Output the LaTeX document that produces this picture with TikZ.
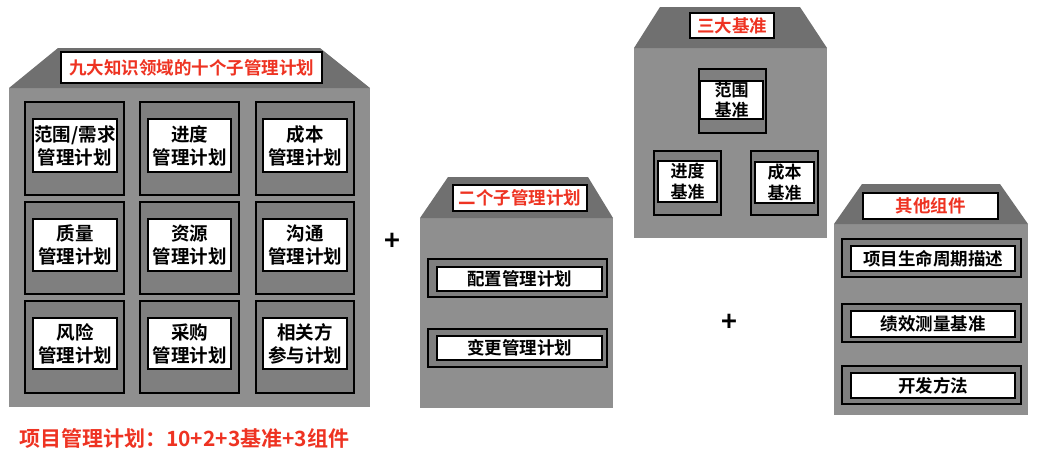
\documentclass[tikz,border=0pt]{standalone}
\usepackage{fontspec}
\setmainfont{Noto Sans CJK SC}[BoldFont={* Bold}]
\definecolor{bodygray}{HTML}{8F8F8F}
\definecolor{roofgray}{HTML}{707070}
\definecolor{innergray}{HTML}{7F7F7F}
\definecolor{titlered}{HTML}{EE3322}
\begin{document}
\begin{tikzpicture}[x=1pt,y=-1pt,
  bodyshape/.style={fill=bodygray,draw=none},
  roofshape/.style={fill=roofgray,draw=none},
  darkbox/.style={draw=black,line width=1.2pt,fill=innergray,inner sep=0pt},
  wbox/.style={draw=black,line width=1.2pt,fill=white,inner sep=0pt,align=center,
    font=\fontsize{17.5}{22}\selectfont\bfseries},
  wboxl/.style={wbox,font=\fontsize{18.5}{23}\selectfont\bfseries},
  wboxs/.style={wbox,font=\fontsize{17}{20.5}\selectfont\bfseries},
  titlebox/.style={wbox,text=titlered},
  plus/.style={font=\fontsize{27}{27}\selectfont\bfseries,inner sep=0pt}
]
\useasboundingbox (0,0) rectangle (1047,459);

% ---------- building 1 ----------
\fill[bodyshape] (9,88) rectangle (370,407);
\fill[roofshape] (9,88) -- (58,48) -- (320,48) -- (370,88) -- cycle;
\node[titlebox,minimum width=261,minimum height=31] (t1) at (191.5,67.5) {九大知识领域的十个子管理计划};

\node[darkbox,minimum width=99,minimum height=93] (d11) at (74.5,148.5) {};
\node[darkbox,minimum width=99,minimum height=93] (d12) at (189.5,148.5) {};
\node[darkbox,minimum width=98,minimum height=93] (d13) at (305,148.5) {};
\node[darkbox,minimum width=99,minimum height=92] (d21) at (74.5,248) {};
\node[darkbox,minimum width=99,minimum height=92] (d22) at (189.5,248) {};
\node[darkbox,minimum width=98,minimum height=92] (d23) at (305,248) {};
\node[darkbox,minimum width=99,minimum height=92] (d31) at (74.5,347) {};
\node[darkbox,minimum width=99,minimum height=92] (d32) at (189.5,347) {};
\node[darkbox,minimum width=98,minimum height=92] (d33) at (305,347) {};

\node[wboxl,minimum width=84,minimum height=53] (w11) at (75,145.5) {范围/需求\\管理计划};
\node[wboxl,minimum width=83,minimum height=53] (w12) at (189.5,145.5) {进度\\管理计划};
\node[wboxl,minimum width=84,minimum height=53] (w13) at (305,145.5) {成本\\管理计划};
\node[wboxl,minimum width=84,minimum height=52] (w21) at (75,245) {质量\\管理计划};
\node[wboxl,minimum width=83,minimum height=52] (w22) at (189.5,245) {资源\\管理计划};
\node[wboxl,minimum width=84,minimum height=52] (w23) at (305,245) {沟通\\管理计划};
\node[wboxl,minimum width=84,minimum height=51] (w31) at (75,343.5) {风险\\管理计划};
\node[wboxl,minimum width=83,minimum height=51] (w32) at (189.5,343.5) {采购\\管理计划};
\node[wboxl,minimum width=84,minimum height=51] (w33) at (305,343.5) {相关方\\参与计划};

\node[anchor=west,inner sep=0pt,text=titlered,font=\fontsize{21}{21}\selectfont\bfseries] (summary) at (19,438) {项目管理计划：10+2+3基准+3组件};

\node[plus] (p1) at (392,242) {+};

% ---------- building 2 ----------
\fill[bodyshape] (420,218) rectangle (613,408);
\fill[roofshape] (420,218) -- (448,177) -- (588,177) -- (613,218) -- cycle;
\node[titlebox,minimum width=134,minimum height=26] (t2) at (520,198) {二个子管理计划};
\node[darkbox,minimum width=179,minimum height=38] (e1) at (517.5,278) {};
\node[darkbox,minimum width=179,minimum height=38] (e2) at (517.5,348) {};
\node[wbox,minimum width=165,minimum height=24] (v1) at (519.5,279) {配置管理计划};
\node[wbox,minimum width=165,minimum height=24] (v2) at (519.5,348) {变更管理计划};

% ---------- building 3 ----------
\fill[bodyshape] (634,48) rectangle (827,238);
\fill[roofshape] (634,48) -- (660,7) -- (800,7) -- (827,48) -- cycle;
\node[titlebox,minimum width=84,minimum height=25] (t3) at (732,25.5) {三大基准};
\node[darkbox,minimum width=67,minimum height=64] (b1) at (732.5,101) {};
\node[darkbox,minimum width=67,minimum height=64] (b2) at (687.5,183) {};
\node[darkbox,minimum width=67,minimum height=64] (b3) at (784.5,183) {};
\node[wboxs,minimum width=63,minimum height=38] (c1) at (731.5,100) {范围\\基准};
\node[wboxs,minimum width=59,minimum height=41] (c2) at (687.5,181.5) {进度\\基准};
\node[wboxs,minimum width=59,minimum height=41] (c3) at (784.5,182.5) {成本\\基准};

\node[plus] (p2) at (729,323) {+};

% ---------- building 4 ----------
\fill[bodyshape] (834,224) rectangle (1028,415);
\fill[roofshape] (834,224) -- (862,184) -- (1000,184) -- (1028,224) -- cycle;
\node[titlebox,minimum width=135,minimum height=26] (t4) at (930.5,206) {其他组件};
\node[darkbox,minimum width=179,minimum height=38] (f1) at (931.5,258) {};
\node[darkbox,minimum width=179,minimum height=38] (f2) at (931.5,323) {};
\node[darkbox,minimum width=179,minimum height=38] (f3) at (931.5,385) {};
\node[wbox,minimum width=164,minimum height=25] (g1) at (933,258.5) {项目生命周期描述};
\node[wbox,minimum width=164,minimum height=26] (g2) at (933,324) {绩效测量基准};
\node[wbox,minimum width=164,minimum height=25] (g3) at (933,385.5) {开发方法};
\end{tikzpicture}
\end{document}
